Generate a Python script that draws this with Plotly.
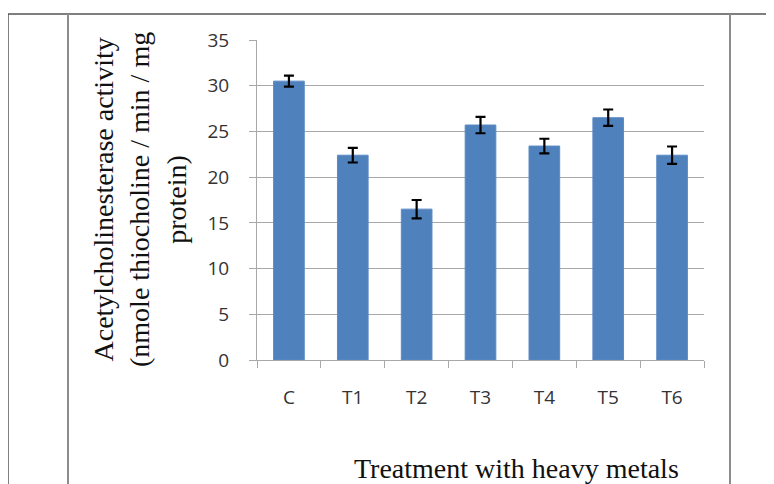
import plotly.graph_objects as go

categories = ["C", "T1", "T2", "T3", "T4", "T5", "T6"]
activity = [30.5, 22.4, 16.5, 25.7, 23.4, 26.5, 22.4]
errors = [0.6, 0.8, 1.0, 0.9, 0.8, 0.9, 0.95]
y_ticks = [0, 5, 10, 15, 20, 25, 30, 35]

# page body has an 8px margin; size the figure to the visible area
OFF = 8
W, H = 774 - OFF, 484 - OFF
L, R, T, B = 257 - OFF, 774 - 704, 40 - OFF, 484 - 360
pw, ph = W - L - R, H - T - B

def px(x):
    return (x - OFF - L) / pw

def py(y):
    return (H - B - (y - OFF)) / ph

fig = go.Figure(go.Bar(
    x=categories, y=activity,
    marker=dict(color="#4F81BD", line=dict(color="#5A8AC6", width=1)),
    error_y=dict(type="data", array=errors, visible=True, color="black",
                 thickness=2.2, width=5),
))

fig.update_layout(
    width=W, height=H,
    margin=dict(l=L, r=R, t=T, b=B),
    paper_bgcolor="white", plot_bgcolor="white",
    bargap=0.52, showlegend=False,
    font=dict(family="Open Sans", size=19, color="#333333"),
)
fig.update_yaxes(range=[0, 35], tickvals=y_ticks, showgrid=True,
                 gridcolor="#A8A8A8", gridwidth=1, showline=True,
                 linecolor="#A8A8A8", linewidth=1, ticks="outside",
                 ticklen=7, tickcolor="#A8A8A8", ticklabelstandoff=16,
                 zeroline=False, tickfont=dict(size=19))
fig.update_xaxes(showline=True, linecolor="#A8A8A8", linewidth=1,
                 ticks="outside", ticklen=7, tickcolor="#A8A8A8",
                 tickson="boundaries", ticklabelstandoff=20,
                 tickfont=dict(size=19))

fig.add_annotation(
    text="Acetylcholinesterase activity<br>(nmole thiocholine / min / mg<br>protein)",
    xref="paper", yref="paper", x=px(140), y=py(200),
    xanchor="center", yanchor="middle", textangle=-90, showarrow=False,
    align="center",
    font=dict(family="Liberation Serif", size=28, color="#111111"),
)
fig.add_annotation(
    text="Treatment with heavy metals",
    xref="paper", yref="paper", x=px(516), y=py(468),
    xanchor="center", yanchor="middle", showarrow=False,
    font=dict(family="Liberation Serif", size=28, color="#111111"),
)

frame = [
    (8, 14, 774, 14, "#555555", 1.5),
    (8, 14, 8, 484, "#555555", 1.5),
    (68, 14, 68, 484, "#8C8C8C", 2),
    (730, 14, 730, 484, "#8C8C8C", 2),
]
for x0, y0, x1, y1, c, w in frame:
    fig.add_shape(type="line", xref="paper", yref="paper",
                  x0=px(x0), y0=py(y0), x1=px(x1), y1=py(y1),
                  line=dict(color=c, width=w), layer="above")

fig.write_html("out.html")
